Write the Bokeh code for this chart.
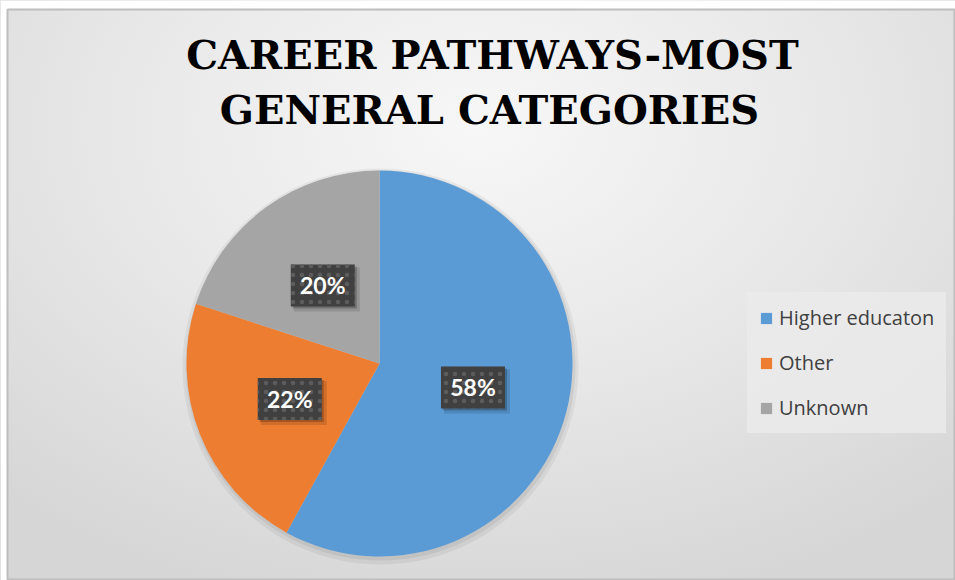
import math
from bokeh.plotting import figure
from bokeh.models import ColumnDataSource, Range1d, Legend, LegendItem
from bokeh.core.properties import value
from bokeh.embed import file_html
from bokeh.resources import INLINE

# ---- data ----
categories = ["Higher educaton", "Other", "Unknown"]
shares = [58, 22, 20]
colors = ["#5B9BD5", "#ED7D31", "#A5A5A5"]
title_lines = ["CAREER PATHWAYS-MOST", "GENERAL CATEGORIES"]

W, H = 955, 580
L, T = 7, 9
p = figure(width=W, height=H, output_backend="svg", toolbar_location=None,
           x_range=Range1d(L, W), y_range=Range1d(0, H - T),
           min_border_left=L, min_border_top=T, min_border_right=0, min_border_bottom=0)
p.axis.visible = False
p.grid.visible = False
p.background_fill_alpha = 0
p.border_fill_color = "white"
p.outline_line_color = "#bdbdbd"
p.outline_line_width = 2
p.styles = {"background": "radial-gradient(ellipse 75% 85% at 50% 22%, #f7f7f7 0%, #e8e8e8 50%, #d6d6d6 100%)"}

cx, cy, r = 379, 217, 193

# pie shadow
p.circle(x=[cx + 1], y=[cy - 3], radius=r + 5, fill_color="black", fill_alpha=0.05, line_alpha=0)
p.circle(x=[cx + 1], y=[cy - 2], radius=r + 2, fill_color="black", fill_alpha=0.06, line_alpha=0)

total = float(sum(shares))
starts, ends, mids = [], [], []
cum = 0.0
for v in shares:
    a0 = math.pi / 2 - 2 * math.pi * cum / total
    cum += v
    a1 = math.pi / 2 - 2 * math.pi * cum / total
    starts.append(a0)
    ends.append(a1)
    mids.append((a0 + a1) / 2)

src = ColumnDataSource(dict(cat=categories, val=shares, color=colors,
                            start=starts, end=ends))
wr = p.wedge(x=cx, y=cy, radius=r, start_angle="start", end_angle="end",
             direction="clock", fill_color="color", line_alpha=0, source=src)

# data labels
lx = [cx + 0.5 * r * math.cos(m) for m in mids]
ly = [cy + 0.5 * r * math.sin(m) for m in mids]
labels = [f"{round(v / total * 100)}%" for v in shares]
lsrc = ColumnDataSource(dict(x=lx, y=ly, sx=[x + 4 for x in lx], sy=[y - 4 for y in ly],
                             sx2=[x + 2 for x in lx], sy2=[y - 2 for y in ly], t=labels))
p.rect(x="sx", y="sy", width=66, height=44, fill_color="black", fill_alpha=0.12, line_alpha=0, source=lsrc)
p.rect(x="sx2", y="sy2", width=64, height=42, fill_color="black", fill_alpha=0.22, line_alpha=0, source=lsrc)
p.rect(x="x", y="y", width=64, height=42, fill_color="#404040", line_alpha=0,
       hatch_pattern="dot", hatch_color="#5c5c5c", hatch_scale=9, hatch_weight=2.5,
       source=lsrc)
p.text(x="x", y="y", text="t", text_color="white", text_font=value("Lato"),
       text_font_style="bold", text_font_size="23px", text_align="center",
       text_baseline="middle", source=lsrc)

# title
p.text(x=[492, 489], y=[526, 471], text=title_lines, text_font=value("DejaVu Serif"),
       text_font_style="bold", text_font_size="40px", text_color="black",
       text_align="center", text_baseline="alphabetic")

# legend
legend = Legend(items=[LegendItem(label=c, renderers=[wr], index=i) for i, c in enumerate(categories)],
                location=(747 - L, 147), orientation="vertical",
                glyph_width=14, glyph_height=14, label_height=20, spacing=18,
                padding=12, margin=0, label_standoff=6,
                label_text_font="Open Sans", label_text_font_size="20px", label_text_color="#404040",
                background_fill_color="#ebebeb", background_fill_alpha=0.8,
                border_line_alpha=0)
p.add_layout(legend, "center")

open("out.html", "w").write(file_html(p, INLINE))
